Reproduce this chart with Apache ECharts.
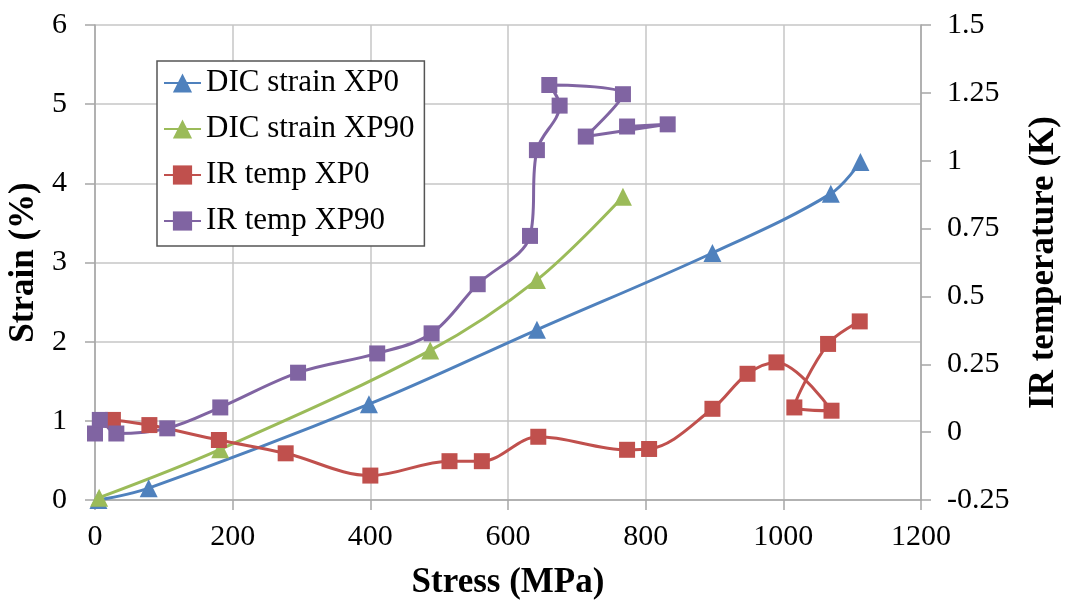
<!DOCTYPE html>
<html>
<head>
<meta charset="utf-8">
<script src="https://cdn.jsdelivr.net/npm/echarts@6/dist/echarts.min.js"></script>
<style>
html,body{margin:0;padding:0;background:#fff;}
#chart{width:1066px;height:601px;}
</style>
</head>
<body>
<div id="chart"></div>
<script>
// ---- data ----
const xTicks = [0, 200, 400, 600, 800, 1000, 1200];
const strainTicks = [0, 1, 2, 3, 4, 5, 6];
const tempTicks = [-0.25, 0, 0.25, 0.5, 0.75, 1, 1.25, 1.5];

const dicXP0Stress = [5, 78, 398, 642, 897, 1069, 1112];
const dicXP0Strain = [0, 0.15, 1.21, 2.15, 3.12, 3.87, 4.27];

const dicXP90Stress = [6, 182, 487, 642, 767];
const dicXP90Strain = [0.03, 0.64, 1.89, 2.78, 3.83];

const irXP0Stress = [26, 79, 180, 277, 400, 515, 562, 644, 773, 805, 897, 948, 990, 1070, 1016, 1065, 1111];
const irXP0Temp = [0.045, 0.026, -0.029, -0.078, -0.160, -0.107, -0.107, -0.017, -0.065, -0.062, 0.086, 0.215, 0.257, 0.079, 0.091, 0.325, 0.408];

const irXP90Stress = [0, 7, 31, 105, 182, 295, 410, 489, 556, 632, 642, 675, 660, 767, 713, 832, 773];
const irXP90Temp = [-0.005, 0.045, -0.005, 0.014, 0.091, 0.219, 0.290, 0.364, 0.545, 0.723, 1.039, 1.203, 1.279, 1.245, 1.089, 1.134, 1.126];

const seriesNames = ['DIC strain XP0', 'DIC strain XP90', 'IR temp XP0', 'IR temp XP90'];
const seriesColors = ['#4F81BD', '#9BBB59', '#C0504D', '#8064A2'];

function pairs(xs, ys) { return xs.map((x, i) => [x, ys[i]]); }

const FONT = "'Liberation Serif', 'Times New Roman', 'DejaVu Serif', serif";
const GRID = '#c6c6c6';
const AXIS = '#a6a6a6';

const chart = echarts.init(document.getElementById('chart'), null, { renderer: 'canvas' });

function lineSeries(i, data, yIdx, symbol, size) {
  return {
    name: seriesNames[i],
    type: 'line',
    yAxisIndex: yIdx,
    data: data,
    smooth: 0.35,
    symbol: symbol,
    symbolSize: size,
    showSymbol: true,
    showAllSymbol: true,
    clip: false,
    color: seriesColors[i],
    lineStyle: { width: 3, color: seriesColors[i] },
    itemStyle: { color: seriesColors[i] },
    emphasis: { disabled: true },
    animation: false
  };
}

const plainNum = v => String(v);

chart.setOption({
  animation: false,
  backgroundColor: '#fff',
  textStyle: { fontFamily: FONT },
  grid: { left: 95, right: 145, top: 25, bottom: 101, containLabel: false, outerBoundsMode: 'none' },
  legend: {
    orient: 'vertical',
    left: 157,
    top: 61,
    padding: [5, 10, 8, 6],
    itemGap: 12,
    itemWidth: 37,
    itemHeight: 24,
    borderColor: '#555',
    borderWidth: 1.5,
    backgroundColor: '#fff',
    data: seriesNames,
    textStyle: { fontFamily: FONT, fontSize: 31, color: '#000', lineHeight: 34 }
  },
  xAxis: {
    type: 'value',
    min: xTicks[0],
    max: xTicks[xTicks.length - 1],
    interval: xTicks[1] - xTicks[0],
    name: 'Stress (MPa)',
    nameLocation: 'middle',
    nameGap: 65,
    nameTextStyle: { fontFamily: FONT, fontSize: 35, fontWeight: 'bold', color: '#000', lineHeight: 35 },
    axisLine: { show: true, lineStyle: { color: AXIS, width: 1.5 } },
    axisTick: { show: true, length: 10, inside: false, lineStyle: { color: AXIS, width: 1.5 } },
    axisLabel: { margin: 22, fontFamily: FONT, fontSize: 30, color: '#000', formatter: plainNum },
    splitLine: { show: true, lineStyle: { color: GRID, width: 1.5 } }
  },
  yAxis: [
    {
      type: 'value',
      position: 'left',
      min: strainTicks[0],
      max: strainTicks[strainTicks.length - 1],
      interval: strainTicks[1] - strainTicks[0],
      name: 'Strain (%)',
      nameLocation: 'middle',
      nameRotate: 90,
      nameGap: 51,
      nameTextStyle: { fontFamily: FONT, fontSize: 35, fontWeight: 'bold', color: '#000', lineHeight: 35 },
      axisLine: { show: true, lineStyle: { color: AXIS, width: 1.5 } },
      axisTick: { show: true, length: 10, inside: false, lineStyle: { color: AXIS, width: 1.5 } },
      axisLabel: { margin: 28, fontFamily: FONT, fontSize: 30, color: '#000', formatter: plainNum },
      splitLine: { show: true, lineStyle: { color: GRID, width: 1.5 } }
    },
    {
      type: 'value',
      position: 'right',
      min: tempTicks[0],
      max: tempTicks[tempTicks.length - 1],
      interval: tempTicks[1] - tempTicks[0],
      name: 'IR temperature (K)',
      nameLocation: 'middle',
      nameRotate: 90,
      nameGap: 105,
      nameTextStyle: { fontFamily: FONT, fontSize: 35, fontWeight: 'bold', color: '#000', lineHeight: 35 },
      axisLine: { show: true, lineStyle: { color: AXIS, width: 1.5 } },
      axisTick: { show: true, length: 10, inside: false, lineStyle: { color: AXIS, width: 1.5 } },
      axisLabel: { margin: 26, fontFamily: FONT, fontSize: 30, color: '#000', formatter: plainNum },
      splitLine: { show: false }
    }
  ],
  series: [
    lineSeries(0, pairs(dicXP0Stress, dicXP0Strain), 0, 'triangle', 18),
    lineSeries(1, pairs(dicXP90Stress, dicXP90Strain), 0, 'triangle', 18),
    lineSeries(2, pairs(irXP0Stress, irXP0Temp), 1, 'rect', 16),
    lineSeries(3, pairs(irXP90Stress, irXP90Temp), 1, 'rect', 16)
  ]
});
</script>
</body>
</html>
